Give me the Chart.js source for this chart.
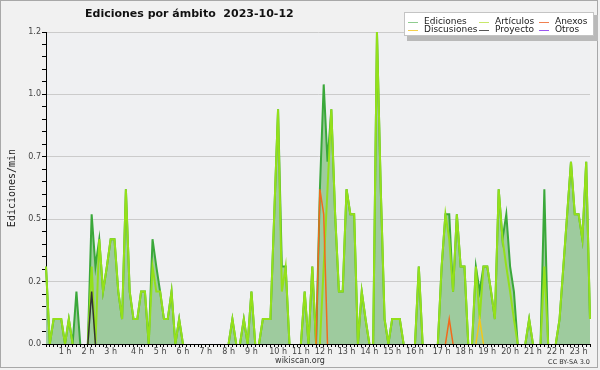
<!DOCTYPE html>
<html><head><meta charset="utf-8">
<script src="https://cdn.jsdelivr.net/npm/chart.js@4.4.0/dist/chart.umd.min.js"></script>
<style>html,body{margin:0;padding:0;background:#f0f0f0}canvas{display:block}</style>
</head><body>
<canvas id="c" width="600" height="370"></canvas>
<script>
// ---- data (10-minute slots, edits per minute) ----
const chartTitle = 'Ediciones por ámbito  2023-10-12';
const yAxisTitle = 'Ediciones/min';
const hourLabels = ['1 h','2 h','3 h','4 h','5 h','6 h','7 h','8 h','9 h','10 h','11 h','12 h','13 h','14 h','15 h','16 h','17 h','18 h','19 h','20 h','21 h','22 h','23 h'];
const hourTickIdx = [5,11,17,24,30,36,42,48,54,61,67,73,79,85,91,97,104,110,116,122,128,134,140];
const yTickValues = [0,0.25,0.5,0.75,1,1.25];
const yTickLabels = ['0.0','0.2','0.5','0.7','1.0','1.2'];
const seriesNames = ['Ediciones','Artículos','Anexos','Discusiones','Proyecto','Otros'];

const ediciones = [
 0.31,0,0.1,0.1,0.1,0,0.1,0,0.21,0,0,0,
 0.52,0.31,0.42,0.21,0.31,0.42,0.42,0.21,0.1,0.62,0.21,0.1,
 0.1,0.21,0.21,0,0.42,0.31,0.21,0.1,0.1,0.21,0,0.1,
 0,0,0,0,0,0,0,0,0,0,0,0,
 0,0.1,0,0,0.1,0,0.21,0,0,0.1,0.1,0.1,
 0.52,0.94,0.31,0.31,0,0,0,0,0.21,0,0.31,0,
 0.62,1.04,0.73,0.94,0.52,0.21,0.21,0.62,0.52,0.52,0,0.21,
 0.1,0,0,1.25,0.62,0.1,0,0.1,0.1,0.1,0,0,
 0,0,0.31,0,0,0,0,0,0.31,0.52,0.52,0.21,
 0.52,0.31,0.31,0,0,0.31,0.21,0.31,0.31,0.21,0.1,0.62,
 0.42,0.52,0.31,0.21,0,0,0,0.1,0,0,0,0.62,
 0,0,0,0.1,0.31,0.52,0.73,0.52,0.52,0.42,0.73,0.1
];
const articulos = [
 0.31,0,0.1,0.1,0.1,0,0.1,0,0,0,0,0,
 0.31,0,0.42,0.21,0.31,0.42,0.42,0.21,0.1,0.62,0.21,0.1,
 0.1,0.21,0.21,0,0.31,0.21,0.21,0.1,0.1,0.21,0,0.1,
 0,0,0,0,0,0,0,0,0,0,0,0,
 0,0.1,0,0,0.1,0,0.21,0,0,0.1,0.1,0.1,
 0.52,0.94,0.21,0.31,0,0,0,0,0.21,0,0.31,0,
 0,0.31,0.62,0.94,0.52,0.21,0.21,0.62,0.52,0.52,0,0.21,
 0.1,0,0,1.25,0.62,0.1,0,0.1,0.1,0.1,0,0,
 0,0,0.31,0,0,0,0,0,0.31,0.52,0.42,0.21,
 0.52,0.31,0.31,0,0,0.31,0.1,0.31,0.31,0.21,0.1,0.62,
 0.42,0.31,0.21,0.1,0,0,0,0.1,0,0,0,0.31,
 0,0,0,0.1,0.31,0.52,0.73,0.52,0.52,0.42,0.73,0.1
];
const anexos = new Array(144).fill(0);
anexos[72] = 0.62; anexos[73] = 0.52; anexos[106] = 0.1;
const discusiones = new Array(144).fill(0);
discusiones[114] = 0.1;
const proyecto = new Array(144).fill(0);
proyecto[12] = 0.21;
const otros = new Array(144).fill(0);

const slots = ediciones.map((_, i) => String(Math.floor(i / 6)).padStart(2, '0') + ':' + String((i % 6) * 10).padStart(2, '0'));

// ---- styles ----
const lineColors = ['#3aa83a', '#94e01a', '#f26a1b', '#f2c81a', '#333333', '#8a3ff0'];
const legendColors = ['#8fcc8f', '#c8e86a', '#f08050', '#f5d04a', '#555555', '#9a55f0'];
const FONT = 'DejaVu Sans';

const hideFlat = { borderColor: ctx => (ctx.p0.parsed.y === 0 && ctx.p1.parsed.y === 0) ? 'rgba(0,0,0,0)' : undefined };
const allSeries = [ediciones, articulos, anexos, discusiones, proyecto, otros];
const orders = [6, 5, 1, 2, 3, 4];
const datasets = allSeries.map((d, k) => ({
  label: seriesNames[k],
  data: d,
  borderColor: lineColors[k],
  borderWidth: k < 2 ? 2 : 1.5,
  backgroundColor: k === 0 ? '#9ecb9e' : 'rgba(0,0,0,0)',
  fill: k === 0 ? 'origin' : false,
  pointRadius: 0,
  tension: 0,
  order: orders[k],
  segment: hideFlat,
  legendColor: legendColors[k]
}));

const framePlugin = {
  id: 'frame',
  beforeDraw(chart) {
    const c = chart.ctx, a = chart.chartArea;
    c.save();
    c.fillStyle = '#f1f1f1';
    c.fillRect(0, 0, 600, 370);
    c.strokeStyle = '#a8a8a8';
    c.lineWidth = 1;
    c.strokeRect(0.5, 0.5, 597, 367);
    c.fillStyle = '#eff0f2';
    c.fillRect(a.left, a.top, a.right - a.left, a.bottom - a.top);
    c.restore();
  },
  afterDraw(chart) {
    const c = chart.ctx;
    c.save();
    // title
    c.fillStyle = '#111';
    c.font = 'bold 11px "' + FONT + '"';
    c.textBaseline = 'middle';
    c.textAlign = 'left';
    c.fillText(chartTitle, 85, 14);
    // legend box
    c.fillStyle = '#b9b9b9';
    c.fillRect(407, 15, 191, 26);
    c.fillStyle = '#ffffff';
    c.fillRect(404, 12, 190, 24);
    c.strokeStyle = '#c4c4c4';
    c.strokeRect(404.5, 12.5, 189, 23);
    const colX = [408, 479, 539];
    const rowY = [21.5, 29.5];
    c.font = '9px "' + FONT + '"';
    chart.data.datasets.forEach((ds, k) => {
      const col = k % 3, row = Math.floor(k / 3);
      const x = colX[col], y = rowY[row];
      c.strokeStyle = ds.legendColor;
      c.lineWidth = 1;
      c.beginPath(); c.moveTo(x, Math.round(y) + 0.5); c.lineTo(x + 10, Math.round(y) + 0.5); c.stroke();
      c.fillStyle = '#222';
      c.fillText(ds.label, x + 16, y);
    });
    // footer
    c.fillStyle = '#333';
    c.font = '8px "' + FONT + '"';
    c.textAlign = 'center';
    c.fillText('wikiscan.org', 300, 361);
    c.font = '6.5px "' + FONT + '"';
    c.textAlign = 'right';
    c.fillText('CC BY-SA 3.0', 590, 362);
    c.restore();
  }
};

new Chart(document.getElementById('c'), {
  type: 'line',
  data: { labels: slots, datasets },
  plugins: [framePlugin],
  options: {
    responsive: false,
    devicePixelRatio: 1,
    animation: false,
    layout: { padding: { top: 32, right: 10, bottom: 0, left: 0 } },
    plugins: { legend: { display: false }, title: { display: false }, tooltip: { enabled: false } },
    scales: {
      x: {
        type: 'category',
        z: 1,
        afterFit(s) { s.height = 26; },
        border: { display: true, color: '#000', width: 1 },
        grid: { drawOnChartArea: false, drawTicks: true, tickLength: 3, tickColor: '#000', tickWidth: 1 },
        ticks: {
          autoSkip: false, maxRotation: 0, minRotation: 0, padding: 0,
          color: '#444', font: { family: FONT, size: 8 },
          callback(v, i) { const h = hourTickIdx.indexOf(i); return h >= 0 ? hourLabels[h] : ''; }
        }
      },
      y: {
        type: 'linear',
        min: 0, max: 1.25,
        afterFit(s) { s.width = 46; },
        afterBuildTicks(s) { const t = []; for (let k = 0; k <= 25; k++) t.push({ value: +(k * 0.05).toFixed(2) }); s.ticks = t; },
        border: { display: true, color: '#000', width: 1 },
        grid: {
          drawTicks: true, tickLength: 4, tickColor: '#000',
          color: ctx => (ctx.tick && ctx.tick.value > 0 && yTickValues.includes(ctx.tick.value)) ? '#cbcbcb' : 'rgba(0,0,0,0)'
        },
        ticks: {
          autoSkip: false, padding: 1, color: '#444', font: { family: FONT, size: 8 },
          callback(v) { const i = yTickValues.indexOf(+(+v).toFixed(2)); return i >= 0 ? yTickLabels[i] : ''; }
        },
        title: { display: true, text: yAxisTitle, color: '#222', font: { family: 'DejaVu Sans Mono', size: 10 }, padding: { top: 6, bottom: 0 } }
      }
    }
  }
});
</script>
</body></html>
